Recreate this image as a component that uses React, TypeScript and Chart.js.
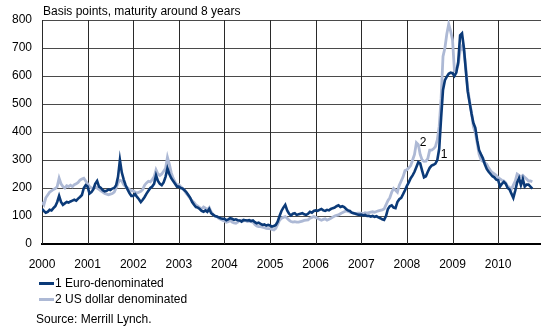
import React, { useEffect, useRef } from "react";
import { Chart, registerables } from "chart.js";

Chart.register(...registerables);

// Half-monthly observations, starting January 2000
const START_YEAR = 2000;
const STEP = 1 / 24;

const euroDenominated: number[] = [
  // 2000
  125, 118, 112, 115, 122, 120, 128, 135, 150, 172, 150, 140, 145, 150, 148, 152, 155, 158, 155, 162, 168, 175, 200, 210,
  // 2001
  205, 180, 185, 195, 215, 225, 205, 200, 192, 188, 190, 195, 193, 198, 200, 210, 240, 300, 255, 230, 210, 195, 182, 172,
  // 2002
  172, 178, 168, 160, 150, 158, 168, 180, 190, 200, 205, 215, 245, 225, 215, 210, 220, 240, 270, 250, 235, 225, 215, 205,
  // 2003
  205, 200, 198, 192, 185, 175, 165, 150, 140, 132, 130, 125, 118, 115, 120, 115, 125, 110, 105, 100, 98, 95, 92, 90,
  // 2004
  90, 85, 88, 92, 90, 86, 88, 85, 84, 80, 86, 85, 84, 85, 82, 84, 78, 74, 76, 72, 68, 70, 66, 68,
  // 2005
  66, 62, 64, 68, 80, 100, 118, 130, 140, 120, 108, 102, 108, 110, 104, 106, 108, 110, 106, 104, 108, 115, 112, 118,
  // 2006
  120, 118, 122, 125, 120, 118, 122, 120, 125, 128, 130, 135, 138, 132, 135, 132, 125, 120, 118, 112, 110, 108, 105, 104,
  // 2007
  105, 102, 104, 100, 101, 98, 100, 97, 99, 95, 92, 88, 86, 100, 125, 135, 138, 130, 128, 150, 160, 165, 178, 192,
  // 2008
  208, 220, 235, 245, 258, 275, 292, 288, 262, 238, 242, 258, 272, 280, 283, 287, 300, 340, 450, 550, 585, 598, 608, 612,
  // 2009
  610, 600, 612, 650, 745, 752, 700, 620, 545, 505, 465, 432, 415, 370, 335, 320, 306, 285, 268, 258, 250, 242, 238, 230,
  // 2010
  228, 205, 215, 222, 215, 200, 195, 180, 165, 190, 220, 235, 210, 232, 205, 212, 212, 205, 198,
];

const usDollarDenominated: number[] = [
  // 2000
  150, 140, 165, 175, 185, 190, 195, 198, 205, 235, 215, 205, 200, 208, 205, 210, 205, 212, 215, 220, 228, 232, 235, 225,
  // 2001
  215, 205, 200, 198, 205, 200, 195, 190, 185, 180, 178, 176, 178, 180, 185, 200, 218, 228, 225, 212, 205, 200, 195, 190,
  // 2002
  190, 185, 182, 185, 188, 195, 210, 218, 224, 222, 230, 240, 265, 250, 245, 250, 260, 270, 310, 285, 255, 235, 222, 210,
  // 2003
  212, 205, 198, 190, 180, 172, 162, 155, 148, 140, 135, 130, 125, 132, 128, 122, 130, 115, 105, 100, 98, 92, 88, 85,
  // 2004
  82, 78, 80, 84, 78, 75, 74, 78, 84, 85, 82, 84, 80, 82, 80, 78, 70, 64, 62, 62, 60, 58, 56, 55,
  // 2005
  55, 52, 50, 56, 70, 85, 92, 95, 98, 92, 85, 80, 78, 80, 78, 78, 80, 82, 84, 85, 86, 92, 95, 98,
  // 2006
  95, 92, 88, 85, 88, 90, 85, 88, 92, 96, 100, 102, 104, 108, 112, 115, 118, 116, 114, 112, 110, 108, 110, 110,
  // 2007
  110, 108, 112, 110, 112, 114, 115, 113, 116, 118, 120, 122, 125, 140, 155, 165, 185, 198, 192, 185, 210, 225, 240, 262,
  // 2008
  265, 272, 280, 300, 320, 362, 355, 320, 300, 295, 296, 305, 335, 335, 340, 348, 372, 420, 520, 670, 700, 750, 785, 760,
  // 2009
  730, 620, 625, 640, 690, 705, 690, 630, 556, 509, 470, 418, 398, 360, 320, 300, 295, 290, 285, 272, 262, 255, 250, 245,
  // 2010
  238, 232, 228, 225, 218, 206, 202, 195, 210, 225, 250, 245, 240, 245, 238, 232, 225, 225, 222,
];

const yearTicks: number[] = [2000, 2001, 2002, 2003, 2004, 2005, 2006, 2007, 2008, 2009, 2010];
const yTicks: number[] = [0, 100, 200, 300, 400, 500, 600, 700, 800];
const seriesNames: string[] = ["1 Euro-denominated", "2 US dollar denominated"];
const seriesTags: { text: string; x: number; y: number }[] = [
  { text: "2", x: 2008.355, y: 361 },
  { text: "1", x: 2008.816, y: 318 },
];

const DARK = "#0b3a78";
const LIGHT = "#adb9d5";
const FONT = "'Liberation Sans', Arial, Helvetica, sans-serif";

function toPoints(values: number[]) {
  return values.map((v, i) => ({ x: START_YEAR + i * STEP, y: v }));
}

export default function App() {
  const ref = useRef<HTMLCanvasElement | null>(null);

  useEffect(() => {
    if (!ref.current) return;
    const gridPlugin = {
      id: "customGrid",
      beforeDatasetsDraw(chart: any) {
        const { ctx, scales, chartArea } = chart;
        ctx.save();
        ctx.lineWidth = 1;
        ctx.strokeStyle = "#4a4a4a";
        yTicks.forEach((v) => {
          if (v === 0) return;
          const y = Math.round(scales.y.getPixelForValue(v)) + 0.5;
          ctx.beginPath();
          ctx.moveTo(chartArea.left, y);
          ctx.lineTo(chartArea.right, y);
          ctx.stroke();
        });
        ctx.strokeStyle = "#2a2a2a";
        yearTicks.forEach((v) => {
          const x = Math.round(scales.x.getPixelForValue(v)) + 0.5;
          ctx.beginPath();
          ctx.moveTo(x, chartArea.top);
          ctx.lineTo(x, chartArea.bottom);
          ctx.stroke();
        });
        ctx.restore();
      },
    };
    const tagPlugin = {
      id: "tags",
      afterDatasetsDraw(chart: any) {
        const { ctx, scales } = chart;
        ctx.save();
        ctx.font = `12px ${FONT}`;
        ctx.fillStyle = "#000";
        ctx.textAlign = "center";
        ctx.textBaseline = "middle";
        seriesTags.forEach((t) => {
          ctx.fillText(t.text, scales.x.getPixelForValue(t.x), scales.y.getPixelForValue(t.y));
        });
        ctx.restore();
      },
    };
    const chart = new Chart(ref.current, {
      type: "line",
      data: {
        datasets: [
          {
            label: seriesNames[0],
            data: toPoints(euroDenominated),
            borderColor: DARK,
            borderWidth: 2.6,
            pointRadius: 0,
            tension: 0,
          },
          {
            label: seriesNames[1],
            data: toPoints(usDollarDenominated),
            borderColor: LIGHT,
            borderWidth: 2.8,
            pointRadius: 0,
            tension: 0,
          },
        ],
      },
      options: {
        animation: false,
        responsive: false,
        devicePixelRatio: 1,
        layout: { padding: { top: 20, right: 0, left: 0, bottom: 0 } },
        plugins: { legend: { display: false }, tooltip: { enabled: false } },
        scales: {
          x: {
            type: "linear",
            min: 2000,
            max: 2010.94,
            afterBuildTicks: (scale: any) => {
              scale.ticks = yearTicks.map((v) => ({ value: v }));
            },
            afterFit: (scale: any) => {
              scale.height = 86;
            },
            ticks: {
              autoSkip: false,
              maxRotation: 0,
              padding: 13,
              color: "#000",
              font: { family: FONT, size: 12 },
              callback: (v: any) => String(v),
            },
            grid: { display: false, drawTicks: false },
            border: { display: true, color: "#000", width: 2 },
          },
          y: {
            min: 0,
            max: 800,
            afterBuildTicks: (scale: any) => {
              scale.ticks = yTicks.map((v) => ({ value: v }));
            },
            afterFit: (scale: any) => {
              scale.width = 42;
            },
            ticks: {
              padding: 10,
              color: "#000",
              font: { family: FONT, size: 12 },
            },
            grid: { display: false, drawTicks: false },
            border: { display: false },
          },
        },
      },
      plugins: [gridPlugin, tagPlugin],
    });
    return () => chart.destroy();
  }, []);

  const text: React.CSSProperties = {
    position: "absolute",
    fontFamily: FONT,
    fontSize: 12,
    lineHeight: "14px",
    color: "#000",
    whiteSpace: "nowrap",
  };
  const swatch = (c: string, top: number): React.CSSProperties => ({
    position: "absolute",
    left: 39,
    top,
    width: 15,
    height: 2.5,
    background: c,
  });

  return (
    <div style={{ position: "absolute", left: 0, top: 0, width: 541, height: 330, background: "#fff" }}>
      <canvas ref={ref} width={541} height={330} style={{ position: "absolute", left: 0, top: 0, display: "block" }} />
      <div style={{ ...text, left: 43, top: 4 }}>Basis points, maturity around 8 years</div>
      <div style={swatch(DARK, 282)} />
      <div style={{ ...text, left: 55, top: 276 }}>{seriesNames[0]}</div>
      <div style={swatch(LIGHT, 298)} />
      <div style={{ ...text, left: 55, top: 292 }}>{seriesNames[1]}</div>
      <div style={{ ...text, left: 36, top: 312 }}>Source: Merrill Lynch.</div>
    </div>
  );
}
